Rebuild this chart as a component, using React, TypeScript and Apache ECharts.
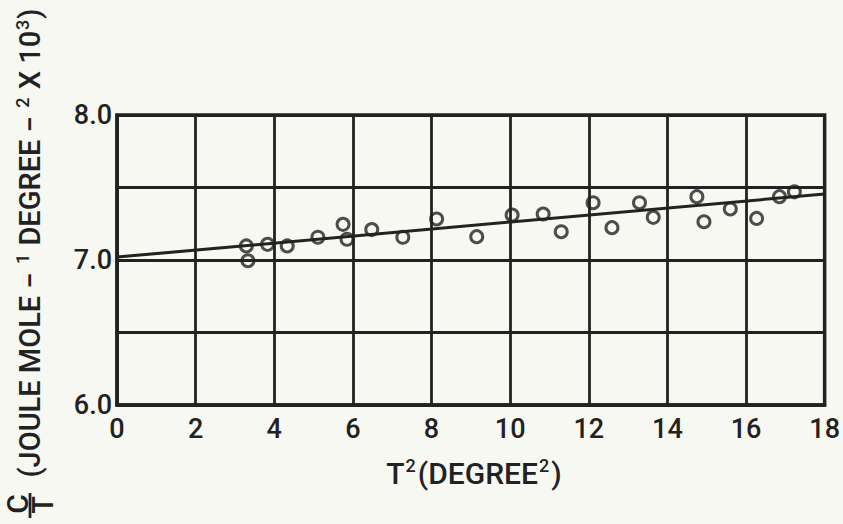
import React, { useEffect, useRef } from 'react';
import * as echarts from 'echarts';

const xTicks = [0, 2, 4, 6, 8, 10, 12, 14, 16, 18];
const yTickLabels = ['6.0', '7.0', '8.0'];
const obsX = [3.29, 3.33, 3.83, 4.33, 5.11, 5.75, 5.85, 6.48, 7.27, 8.13, 9.15, 10.05, 10.84, 11.3, 12.11, 12.59, 13.29, 13.64, 14.75, 14.93, 15.6, 16.27, 16.85, 17.23];
const obsY = [7.097, 6.995, 7.108, 7.097, 7.157, 7.246, 7.143, 7.21, 7.157, 7.283, 7.161, 7.31, 7.317, 7.195, 7.395, 7.223, 7.395, 7.294, 7.437, 7.264, 7.352, 7.287, 7.437, 7.47];
const fitX = [0, 18];
const fitY = [7.02, 7.455];

const INK = '#222222';
const BG = '#f8f8f3';
const FONT = "Roboto, 'Liberation Sans', sans-serif";

export default function App() {
  const ref = useRef<HTMLDivElement>(null);
  useEffect(() => {
    const chart = echarts.init(ref.current!, null, { renderer: 'svg' });
    chart.setOption({
      animation: false,
      backgroundColor: BG,
      grid: { left: 117, top: 115, right: 7, bottom: 119, show: true, borderColor: INK, borderWidth: 3.5, backgroundColor: 'transparent' },
      xAxis: {
        type: 'value', min: xTicks[0], max: xTicks[xTicks.length - 1], interval: 2,
        axisLine: { show: true, lineStyle: { color: INK, width: 3.5 } },
        axisTick: { show: false },
        splitLine: { show: true, lineStyle: { color: INK, width: 2.8 } },
        axisLabel: { color: INK, fontSize: 27, fontWeight: 500, fontFamily: FONT, margin: 10, showMaxLabel: true, showMinLabel: true },
      },
      yAxis: {
        type: 'value', min: 6, max: 8, interval: 0.5,
        axisLine: { show: true, lineStyle: { color: INK, width: 3.5 } },
        axisTick: { show: false },
        splitLine: { show: true, lineStyle: { color: INK, width: 2.8 } },
        axisLabel: {
          color: INK, fontSize: 27, fontWeight: 500, fontFamily: FONT, margin: 5,
          formatter: (v: number) => (yTickLabels.includes(v.toFixed(1)) ? v.toFixed(1) : ''),
        },
      },
      series: [
        {
          type: 'line', data: fitX.map((x, i) => [x, fitY[i]]), showSymbol: false, symbol: 'none',
          lineStyle: { color: INK, width: 3 }, z: 3,
        },
        {
          type: 'scatter', data: obsX.map((x, i) => [x, obsY[i]]), symbol: 'circle', symbolSize: 12,
          itemStyle: { color: 'rgba(0,0,0,0)', borderColor: INK, borderWidth: 3 }, z: 4,
        },
      ],
      graphic: [
        {
          type: 'text', x: 474, y: 473,
          style: {
            text: '{m|T}{s|2}{m|(DEGREE}{s|2}{m|)}',
            align: 'center', verticalAlign: 'middle', fill: INK,
            rich: {
              m: { fontSize: 30, fontWeight: 500, fontFamily: FONT, fill: INK },
              s: { fontSize: 18, fontWeight: 500, fontFamily: FONT, fill: INK, padding: [0, 2, 15, 1] },
            },
          },
        },
        {
          type: 'text', x: 30, y: 243, rotation: Math.PI / 2,
          style: {
            text: '{m|(JOULE MOLE − }{s|1}{m| DEGREE − }{s|2}{m| X 10}{s|3}{m|)}',
            align: 'center', verticalAlign: 'middle', fill: INK,
            rich: {
              m: { fontSize: 29, fontWeight: 500, fontFamily: FONT, fill: INK },
              s: { fontSize: 18, fontWeight: 500, fontFamily: FONT, fill: INK, padding: [0, 1, 15, 1] },
            },
          },
        },
        {
          type: 'text', x: 17, y: 504, rotation: Math.PI / 2,
          style: { text: 'C', fontSize: 30, fontWeight: 500, fontFamily: FONT, fill: INK, align: 'center', verticalAlign: 'middle' },
        },
        {
          type: 'line', shape: { x1: 30, y1: 493, x2: 30, y2: 518 }, style: { stroke: INK, lineWidth: 2.8 },
        },
        {
          type: 'text', x: 43, y: 505, rotation: Math.PI / 2,
          style: { text: 'T', fontSize: 29, fontWeight: 500, fontFamily: FONT, fill: INK, align: 'center', verticalAlign: 'middle' },
        },
      ],
    });
    return () => chart.dispose();
  }, []);
  return <div ref={ref} style={{ position: 'fixed', left: 0, top: 0, width: 843, height: 524 }} />;
}
